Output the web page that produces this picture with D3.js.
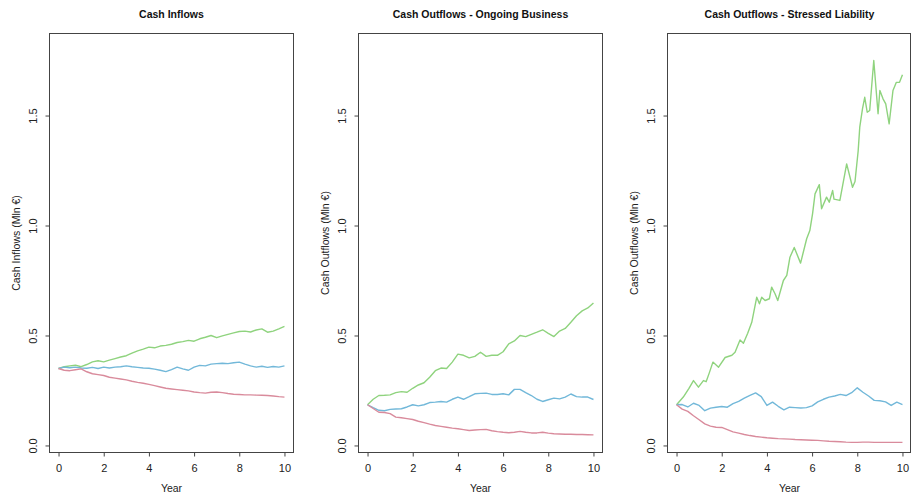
<!DOCTYPE html>
<html>
<head>
<meta charset="utf-8">
<script src="https://cdn.jsdelivr.net/npm/d3@7"></script>
<style>
  body { margin: 0; background: #fff; }
  svg { display: block; font-family: "Liberation Sans", Arial, sans-serif; }
</style>
</head>
<body>
<div id="chart"></div>
<script>
// quarterly grid, years 0..10
const years = [0, 0.25, 0.5, 0.75, 1, 1.25, 1.5, 1.75, 2, 2.25, 2.5, 2.75, 3, 3.25, 3.5, 3.75, 4, 4.25, 4.5, 4.75, 5,
  5.25, 5.5, 5.75, 6, 6.25, 6.5, 6.75, 7, 7.25, 7.5, 7.75, 8, 8.25, 8.5, 8.75, 9, 9.25, 9.5, 9.75, 10];

const inflowsHigh = [0.350, 0.358, 0.362, 0.365, 0.358, 0.368, 0.380, 0.385, 0.380, 0.388, 0.395, 0.402, 0.408, 0.420,
  0.430, 0.438, 0.447, 0.444, 0.452, 0.455, 0.460, 0.468, 0.472, 0.478, 0.474, 0.485, 0.492, 0.500, 0.490, 0.498, 0.505,
  0.512, 0.518, 0.520, 0.516, 0.525, 0.530, 0.515, 0.520, 0.530, 0.541];
const inflowsMid = [0.350, 0.356, 0.353, 0.356, 0.352, 0.351, 0.355, 0.350, 0.356, 0.352, 0.356, 0.358, 0.362, 0.358,
  0.355, 0.352, 0.351, 0.347, 0.342, 0.336, 0.345, 0.356, 0.348, 0.342, 0.356, 0.364, 0.362, 0.370, 0.372, 0.374, 0.372,
  0.376, 0.379, 0.370, 0.362, 0.356, 0.360, 0.355, 0.359, 0.356, 0.362];
const inflowsLow = [0.350, 0.342, 0.340, 0.344, 0.348, 0.335, 0.326, 0.322, 0.318, 0.310, 0.306, 0.302, 0.298, 0.292,
  0.287, 0.283, 0.278, 0.272, 0.266, 0.260, 0.257, 0.254, 0.251, 0.248, 0.243, 0.240, 0.238, 0.242, 0.243, 0.240, 0.236,
  0.233, 0.232, 0.230, 0.230, 0.229, 0.228, 0.227, 0.225, 0.222, 0.220];

const ongoingHigh = [0.185, 0.210, 0.227, 0.228, 0.230, 0.240, 0.245, 0.242, 0.260, 0.275, 0.285, 0.310, 0.340, 0.352,
  0.350, 0.379, 0.415, 0.410, 0.398, 0.405, 0.424, 0.405, 0.410, 0.410, 0.426, 0.462, 0.475, 0.500, 0.495, 0.505, 0.515,
  0.526, 0.510, 0.495, 0.520, 0.532, 0.560, 0.590, 0.612, 0.625, 0.648];
const ongoingMid = [0.185, 0.172, 0.160, 0.158, 0.164, 0.166, 0.167, 0.175, 0.185, 0.180, 0.185, 0.195, 0.197, 0.200,
  0.197, 0.210, 0.220, 0.210, 0.222, 0.235, 0.237, 0.238, 0.232, 0.232, 0.235, 0.230, 0.255, 0.255, 0.240, 0.227, 0.210,
  0.200, 0.208, 0.215, 0.212, 0.220, 0.234, 0.222, 0.220, 0.220, 0.209];
const ongoingLow = [0.185, 0.168, 0.151, 0.150, 0.145, 0.129, 0.126, 0.122, 0.118, 0.110, 0.104, 0.097, 0.091, 0.087,
  0.083, 0.079, 0.076, 0.072, 0.068, 0.070, 0.072, 0.073, 0.067, 0.063, 0.060, 0.058, 0.060, 0.064, 0.060, 0.057, 0.057,
  0.060, 0.056, 0.053, 0.052, 0.051, 0.051, 0.050, 0.050, 0.049, 0.048];

// the stressed upper path is read at its turning points
const stressedYears = [0, 0.3, 0.55, 0.75, 0.97, 1.19, 1.31, 1.45, 1.61, 1.86, 2.15, 2.45, 2.59, 2.81, 2.96, 3.15, 3.33,
  3.55, 3.67, 3.77, 3.92, 4.11, 4.21, 4.36, 4.48, 4.73, 4.88, 5.02, 5.21, 5.49, 5.76, 5.9, 6.02, 6.13, 6.32, 6.42, 6.64,
  6.76, 6.91, 6.97, 7.23, 7.53, 7.79, 7.9, 8.04, 8.11, 8.23, 8.33, 8.44, 8.55, 8.73, 8.92, 9.0, 9.14, 9.26, 9.41, 9.58,
  9.73, 9.87, 10];
const stressedHigh = [0.185, 0.220, 0.260, 0.295, 0.265, 0.295, 0.290, 0.330, 0.379, 0.356, 0.400, 0.410, 0.424, 0.480,
  0.465, 0.510, 0.560, 0.674, 0.644, 0.674, 0.659, 0.667, 0.720, 0.690, 0.659, 0.750, 0.773, 0.856, 0.900, 0.829, 0.940,
  0.977, 1.053, 1.144, 1.186, 1.076, 1.129, 1.106, 1.159, 1.120, 1.114, 1.280, 1.174, 1.200, 1.340, 1.447, 1.530, 1.583,
  1.515, 1.523, 1.750, 1.508, 1.614, 1.576, 1.553, 1.462, 1.614, 1.651, 1.651, 1.686];
const stressedMid = [0.185, 0.186, 0.175, 0.192, 0.182, 0.158, 0.170, 0.174, 0.177, 0.174, 0.190, 0.200, 0.215, 0.228,
  0.239, 0.222, 0.182, 0.197, 0.178, 0.162, 0.174, 0.172, 0.170, 0.172, 0.180, 0.198, 0.210, 0.220, 0.225, 0.232, 0.227,
  0.240, 0.262, 0.242, 0.225, 0.205, 0.203, 0.198, 0.182, 0.197, 0.186];
const stressedLow = [0.185, 0.165, 0.155, 0.135, 0.117, 0.098, 0.088, 0.083, 0.082, 0.072, 0.062, 0.056, 0.050, 0.045,
  0.041, 0.038, 0.035, 0.033, 0.031, 0.030, 0.029, 0.027, 0.026, 0.025, 0.024, 0.023, 0.021, 0.019, 0.018, 0.017, 0.015,
  0.014, 0.014, 0.015, 0.015, 0.014, 0.014, 0.014, 0.014, 0.014, 0.014];

const titles = ["Cash Inflows", "Cash Outflows - Ongoing Business", "Cash Outflows - Stressed Liability"];
const yLabels = ["Cash Inflows (Mln \u20ac)", "Cash Outflows (Mln \u20ac)", "Cash Outflows (Mln \u20ac)"];
const xTicks = [0, 2, 4, 6, 8, 10];
const yTicks = [0, 0.5, 1, 1.5];

const colors = { high: "#8fd37e", mid: "#72b8d9", low: "#d98b9c" };

const panels = [
  { title: titles[0], ylabel: yLabels[0], series: [
    { x: years, y: inflowsHigh, c: colors.high },
    { x: years, y: inflowsMid, c: colors.mid },
    { x: years, y: inflowsLow, c: colors.low }] },
  { title: titles[1], ylabel: yLabels[1], series: [
    { x: years, y: ongoingHigh, c: colors.high },
    { x: years, y: ongoingMid, c: colors.mid },
    { x: years, y: ongoingLow, c: colors.low }] },
  { title: titles[2], ylabel: yLabels[2], series: [
    { x: stressedYears, y: stressedHigh, c: colors.high },
    { x: years, y: stressedMid, c: colors.mid },
    { x: years, y: stressedLow, c: colors.low }] }
];

const width = 911, height = 497;
const panelWidth = 244, panelStep = 309, firstLeft = 49.5;
const plotTop = 33.5, plotBottom = 452.5;

const svg = d3.select("#chart").append("svg")
  .attr("width", width)
  .attr("height", height);

const yScale = d3.scaleLinear().domain([-0.032, 1.873]).range([plotBottom, plotTop]);

panels.forEach((p, i) => {
  const left = firstLeft + i * panelStep;
  const right = Math.min(left + panelWidth, width - 0.5);
  const xScale = d3.scaleLinear().domain([-0.4, 10.4]).range([left, left + panelWidth]);
  const g = svg.append("g");

  const line = d3.line()
    .x((d) => xScale(d[0]))
    .y((d) => yScale(d[1]));

  p.series.forEach((s) => {
    g.append("path")
      .datum(s.x.map((x, k) => [x, s.y[k]]))
      .attr("fill", "none")
      .attr("stroke", s.c)
      .attr("stroke-width", 1.4)
      .attr("stroke-linejoin", "round")
      .attr("d", line);
  });

  g.append("rect")
    .attr("x", left)
    .attr("y", plotTop)
    .attr("width", right - left)
    .attr("height", plotBottom - plotTop)
    .attr("fill", "none")
    .attr("stroke", "#444")
    .attr("stroke-width", 1);

  const xAxis = g.append("g")
    .attr("transform", `translate(0, ${plotBottom})`)
    .call(d3.axisBottom(xScale).tickValues(xTicks).tickSize(4).tickPadding(8).tickFormat(d3.format("d")));
  xAxis.select(".domain").remove();
  xAxis.selectAll("line").attr("stroke", "#444");
  xAxis.selectAll("text").attr("fill", "#222").style("font-size", "11px");

  const yAxis = g.append("g")
    .attr("transform", `translate(${left}, 0)`)
    .call(d3.axisLeft(yScale).tickValues(yTicks).tickSize(4).tickFormat(d3.format(".1f")));
  yAxis.select(".domain").remove();
  yAxis.selectAll("line").attr("stroke", "#444");
  yAxis.selectAll("text")
    .attr("fill", "#222")
    .style("font-size", "11px")
    .attr("transform", "rotate(-90)")
    .attr("x", 0)
    .attr("y", -13)
    .attr("dy", null)
    .attr("text-anchor", "middle");

  g.append("text")
    .attr("x", left + panelWidth / 2)
    .attr("y", 18)
    .attr("text-anchor", "middle")
    .style("font-size", "10.5px")
    .style("font-weight", "bold")
    .attr("fill", "#111")
    .text(p.title);

  g.append("text")
    .attr("x", left + panelWidth / 2)
    .attr("y", 492)
    .attr("text-anchor", "middle")
    .style("font-size", "10.5px")
    .attr("fill", "#222")
    .text("Year");

  g.append("text")
    .attr("transform", `translate(${left - 30}, ${(plotTop + plotBottom) / 2}) rotate(-90)`)
    .attr("text-anchor", "middle")
    .style("font-size", "10.5px")
    .attr("fill", "#222")
    .text(p.ylabel);
});
</script>
</body>
</html>
